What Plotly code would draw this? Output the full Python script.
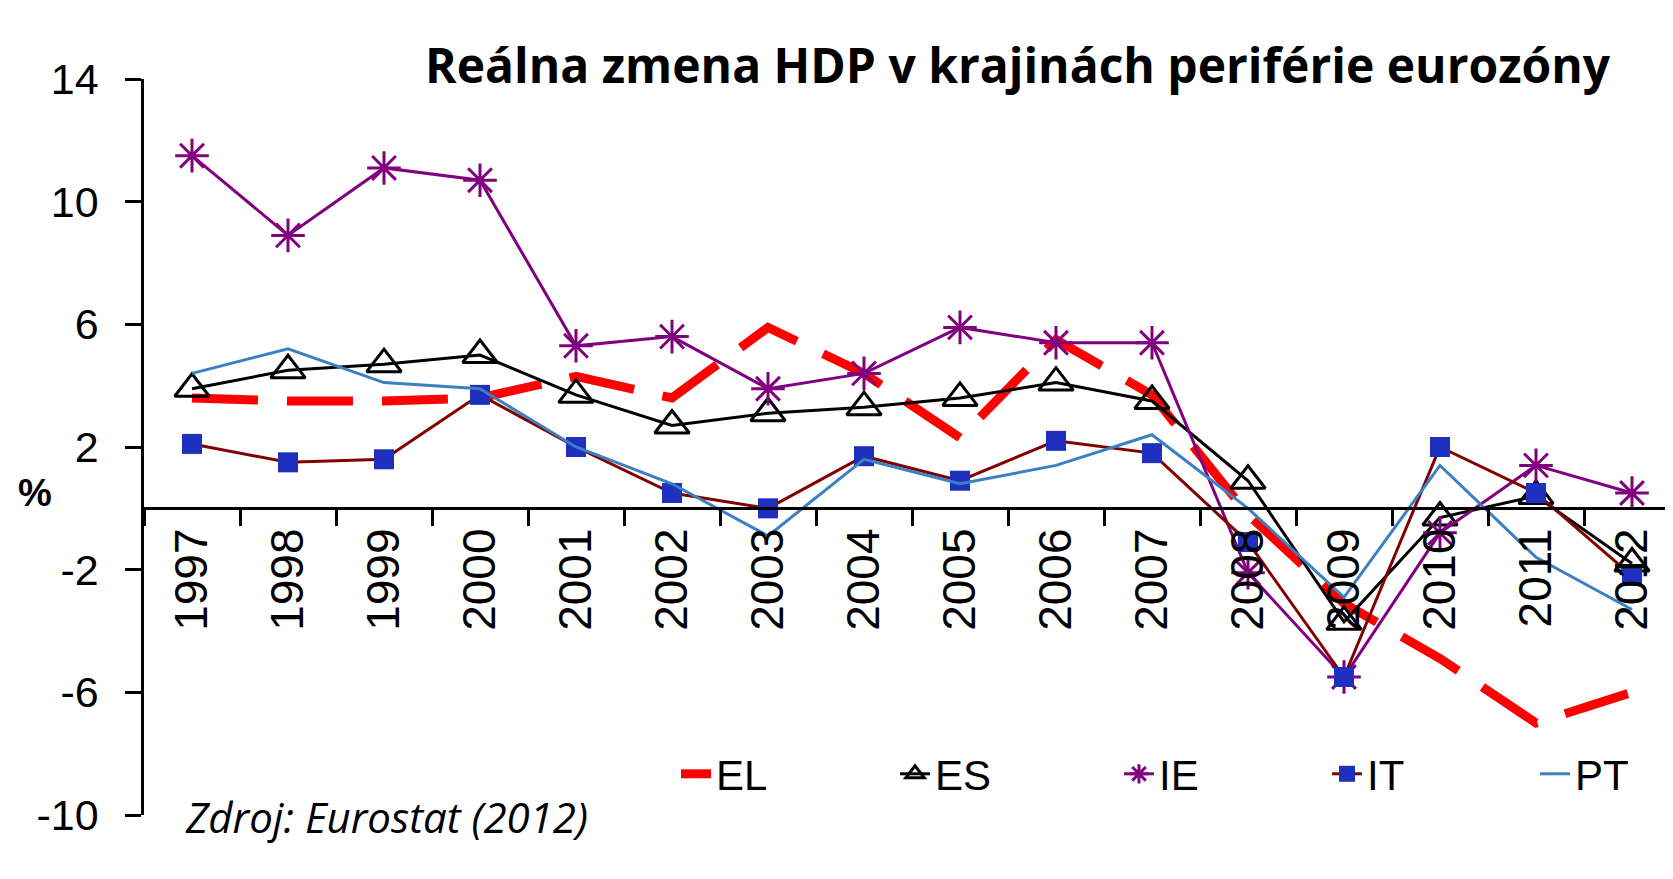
import plotly.graph_objects as go

years = [str(y) for y in range(1997, 2013)]
EL = [3.6, 3.5, 3.5, 3.6, 4.3, 3.6, 5.9, 4.4, 2.3, 5.5, 3.7, -0.2, -3.1, -4.9, -7.0, -6.0]
ES = [3.9, 4.5, 4.7, 5.0, 3.7, 2.7, 3.1, 3.3, 3.6, 4.1, 3.5, 0.9, -3.7, -0.3, 0.4, -1.8]
IE = [11.5, 8.9, 11.1, 10.7, 5.3, 5.6, 3.9, 4.4, 5.9, 5.4, 5.4, -2.1, -5.5, -0.8, 1.4, 0.5]
IT = [2.1, 1.5, 1.6, 3.7, 2.0, 0.5, 0.0, 1.7, 0.9, 2.2, 1.8, -1.1, -5.5, 2.0, 0.5, -2.2]
PT = [4.4, 5.2, 4.1, 3.9, 2.0, 0.8, -0.9, 1.6, 0.8, 1.4, 2.4, 0.0, -2.9, 1.4, -1.6, -3.3]
y_ticks = [-10, -6, -2, 2, 6, 10, 14]

# the page adds an 8px body margin, so the figure is 8px smaller and offset
OFF = 8
W, H = 1673 - OFF, 879 - OFF
ML, MR, MT, MB = 144 - OFF, 0, 79 - OFF, 64
PW = W - ML - MR
PH = H - MT - MB

def px_x(p):  # page x -> paper
    return (p - OFF - ML) / PW

def px_y(p):  # page y -> paper
    return (H - MB - (p - OFF)) / PH

FONT = "Liberation Sans, Arial, sans-serif"

fig = go.Figure()
fig.add_trace(go.Scatter(x=years, y=EL, name="EL", mode="lines", legend="legend",
                         line=dict(color="#ff0000", width=9, dash="66px,29px")))
fig.add_trace(go.Scatter(x=years, y=ES, name="ES", mode="lines+markers", legend="legend2",
                         line=dict(color="#000000", width=3),
                         marker=dict(symbol="triangle-up-open", size=30, color="#000000",
                                     line=dict(width=3, color="#000000"))))
fig.add_trace(go.Scatter(x=years, y=IE, name="IE", mode="lines+markers", legend="legend3",
                         line=dict(color="#800080", width=3),
                         marker=dict(symbol="asterisk-open", size=28, color="#800080",
                                     line=dict(width=3, color="#800080"))))
fig.add_trace(go.Scatter(x=years, y=IT, name="IT", mode="lines+markers", legend="legend4",
                         line=dict(color="#800000", width=3),
                         marker=dict(symbol="square", size=20, color="#1f30be",
                                     line=dict(width=0))))
fig.add_trace(go.Scatter(x=years, y=PT, name="PT", mode="lines", legend="legend5",
                         line=dict(color="#3a80c3", width=3)))

ymin, ymax = -10, 14
zero_pos = (0 - ymin) / (ymax - ymin)

def leg(text_start):
    return dict(orientation="h", x=px_x(text_start - 44), y=px_y(774), xanchor="left",
                yanchor="middle", font=dict(size=42, family=FONT, color="black"),
                bgcolor="rgba(0,0,0,0)", borderwidth=0)

fig.update_layout(
    width=W, height=H, autosize=False,
    margin=dict(l=ML, r=MR, t=MT, b=MB, pad=0),
    paper_bgcolor="white", plot_bgcolor="white",
    font=dict(family=FONT, color="black"),
    showlegend=True,
    legend=leg(720), legend2=leg(939), legend3=leg(1163), legend4=leg(1371), legend5=leg(1579),
    xaxis=dict(type="category", range=[-0.5, -0.5 + PW / 96.0], anchor="free", position=zero_pos,
               showline=True, linecolor="black", linewidth=2.5, layer="above traces",
               ticks="outside", tickson="boundaries", ticklen=16, tickwidth=2.5, tickcolor="black",
               tickangle=-90, tickfont=dict(size=46, family=FONT),
               showgrid=False, zeroline=False, fixedrange=True, automargin=False),
    yaxis=dict(range=[ymin, ymax], tickvals=y_ticks, ticktext=[str(v) for v in y_ticks],
               showline=True, linecolor="black", linewidth=2.5,
               ticks="outside", ticklen=16, tickwidth=2.5, tickcolor="black",
               ticklabelstandoff=18,
               tickfont=dict(size=43, family=FONT),
               showgrid=False, zeroline=False, fixedrange=True, automargin=False),
)

fig.add_annotation(text="<b>Reálna zmena HDP v krajinách periférie eurozóny</b>",
                   xref="paper", yref="paper", x=px_x(1613), y=px_y(64),
                   xanchor="right", yanchor="middle", showarrow=False,
                   font=dict(size=48, family="Open Sans, Lato, sans-serif", color="black"))
fig.add_annotation(text="<b>%</b>", xref="paper", yref="paper", x=px_x(35), y=px_y(493),
                   xanchor="center", yanchor="middle", showarrow=False,
                   font=dict(size=38, family=FONT, color="black"))
fig.add_annotation(text="<i>Zdroj: Eurostat (2012)</i>", xref="paper", yref="paper",
                   x=px_x(183), y=px_y(816), xanchor="left", yanchor="middle", showarrow=False,
                   font=dict(size=42, family="Open Sans, Lato, sans-serif", color="black"))

fig.write_html("out.html")
